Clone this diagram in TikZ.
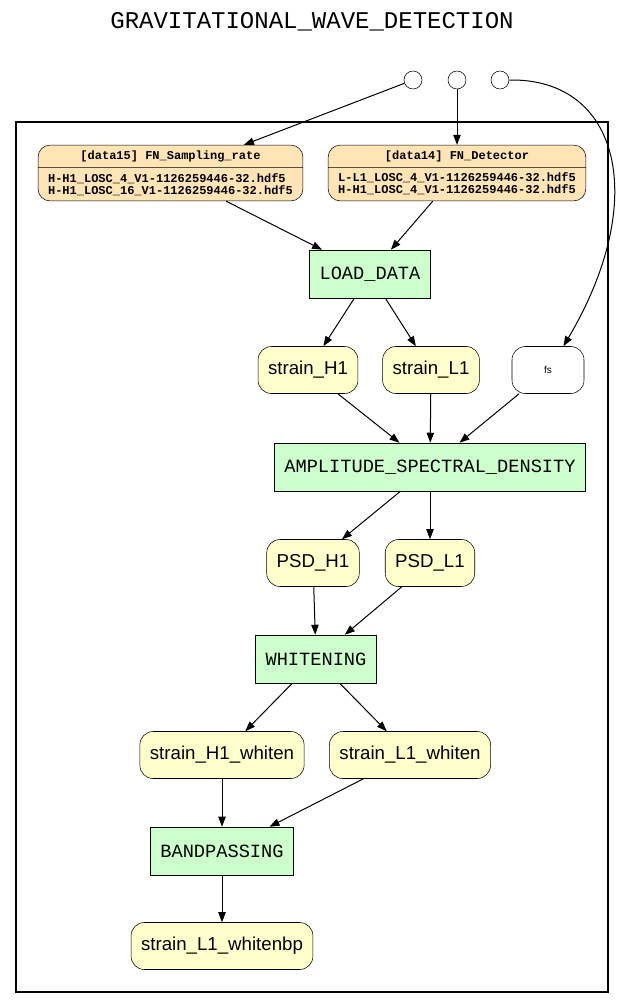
\documentclass[tikz,border=0pt]{standalone}
\usepackage{fontspec}
\setmainfont{Liberation Sans}
\newfontfamily\courierfont{Liberation Mono}
\usetikzlibrary{shapes.multipart,arrows.meta}
\definecolor{procgreen}{HTML}{CCFFCC}
\definecolor{datayellow}{HTML}{FFFFCC}
\definecolor{filepeach}{HTML}{FFE4B5}
\tikzset{
		% Node styles for the workflow: process steps, data items, files and ports
		process node/.style={rectangle,draw,fill=procgreen,inner xsep=7.5pt,minimum height=36pt,font=\courierfont\fontsize{14}{16}\selectfont},
		data node/.style={rectangle,draw,rounded corners=10pt,fill=datayellow,inner xsep=7.5pt,minimum height=35.25pt,font=\fontsize{14}{16}\selectfont},
		param node/.style={rectangle,draw,rounded corners=10pt,fill=white,minimum width=54pt,minimum height=35.25pt,font=\fontsize{7.5}{9}\selectfont},
		file node/.style={rectangle split,rectangle split parts=2,rectangle split part align={center,left},draw,rounded corners=9pt,fill=filepeach,align=left,inner xsep=7.5pt,inner ysep=4pt,font=\courierfont\bfseries\fontsize{9}{9}\selectfont},
		port node/.style={circle,draw,fill=white,inner sep=0,minimum size=13.5pt}
	}

\begin{document}
\begin{tikzpicture}
		[x=0.75pt,y=-0.75pt,
			>={Triangle[length=7.5pt,width=5.5pt]},
			flow/.style={->,line width=0.75pt}
		]
		\useasboundingbox (0,0) rectangle (624,1008);
		\node [font=\courierfont\fontsize{18}{20}\selectfont] (title) at (312,22) {GRAVITATIONAL\_WAVE\_DETECTION};
		\node [draw,line width=1.5pt,minimum width=444pt,minimum height=652.5pt,inner sep=0] (frame) at (312,557) {};
		% ports above the frame
		\node [port node] (port1) at (413,80) {};
		\node [port node] (port2) at (457,80) {};
		\node [port node] (port3) at (500,80) {};
		% input files
		\node [file node] (data15) at (170.5,173) {[data15] FN\_Sampling\_rate
			\nodepart{two}H-H1\_LOSC\_4\_V1-1126259446-32.hdf5\\H-H1\_LOSC\_16\_V1-1126259446-32.hdf5};
		\node [file node] (data14) at (457,173) {[data14] FN\_Detector
			\nodepart{two}L-L1\_LOSC\_4\_V1-1126259446-32.hdf5\\H-H1\_LOSC\_4\_V1-1126259446-32.hdf5};
		% steps and their data
		\node [process node] (load) at (370,274) {LOAD\_DATA};
		\node [data node] (strainH) at (308,370) {strain\_H1};
		\node [data node] (strainL) at (431,370) {strain\_L1};
		\node [param node] (fs) at (548,370) {fs};
		\node [process node] (asd) at (430,467) {AMPLITUDE\_SPECTRAL\_DENSITY};
		\node [data node] (psdH) at (313,563) {PSD\_H1};
		\node [data node] (psdL) at (430,563) {PSD\_L1};
		\node [process node] (whiten) at (316,659) {WHITENING};
		\node [data node] (whitenH) at (222,755) {strain\_H1\_whiten};
		\node [data node] (whitenL) at (410,755) {strain\_L1\_whiten};
		\node [process node] (band) at (222,851) {BANDPASSING};
		\node [data node] (whitenbp) at (222,946) {strain\_L1\_whitenbp};
		% connectors
		\draw [flow] (port1) -- (data15);
		\draw [flow] (port2) -- (data14);
		\draw [flow] (port3.east) .. controls (620,78) and (650,200) .. (fs.57);
		\draw [flow] (data15) -- (load);
		\draw [flow] (data14) -- (load);
		\draw [flow] (load) -- (strainH);
		\draw [flow] (load) -- (strainL);
		\draw [flow] (strainH) -- (asd);
		\draw [flow] (strainL) -- (asd);
		\draw [flow] (fs) -- (asd);
		\draw [flow] (asd) -- (psdH);
		\draw [flow] (asd) -- (psdL);
		\draw [flow] (psdH) -- (whiten);
		\draw [flow] (psdL) -- (whiten);
		\draw [flow] (whiten) -- (whitenH);
		\draw [flow] (whiten) -- (whitenL);
		\draw [flow] (whitenH) -- (band);
		\draw [flow] (whitenL) -- (band);
		\draw [flow] (band) -- (whitenbp);
	\end{tikzpicture}
\end{document}
